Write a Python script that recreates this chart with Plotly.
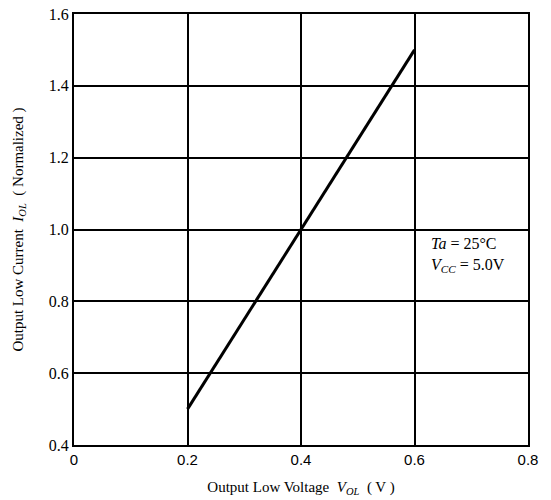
import plotly.graph_objects as go

vol = [0.2, 0.4, 0.6]
iol = [0.5, 1.0, 1.5]
x_ticks = [0, 0.2, 0.4, 0.6, 0.8]
x_labels = ["0", "0.2", "0.4", "0.6", "0.8"]
y_ticks = [0.4, 0.6, 0.8, 1.0, 1.2, 1.4, 1.6]
y_labels = ["0.4", "0.6", "0.8", "1.0", "1.2", "1.4", "1.6"]

serif = "Liberation Serif"
fig = go.Figure()
fig.add_trace(go.Scatter(x=vol, y=iol, mode="lines",
                         line=dict(color="black", width=3), showlegend=False))

fig.add_annotation(x=0.625, y=0.93, xref="x", yref="y", xanchor="left",
                   text="<i>Ta</i> = 25°C<br><i>V<sub>CC</sub></i> = 5.0V",
                   showarrow=False, align="left",
                   font=dict(family=serif, size=16, color="black"))

fig.update_layout(
    width=551, height=500,
    margin=dict(l=74, r=23, t=14, b=55, autoexpand=False),
    paper_bgcolor="white", plot_bgcolor="white",
    xaxis=dict(range=[0, 0.8], tickvals=x_ticks, ticktext=x_labels,
               showgrid=True, gridcolor="black", gridwidth=1.5,
               showline=True, linecolor="black", linewidth=2, mirror=True,
               ticks="", zeroline=False, automargin=False,
               tickfont=dict(family="Liberation Sans", size=15, color="black"),
               title=dict(text="Output Low Voltage  <i>V<sub>OL</sub></i>  ( V )",
                          font=dict(family=serif, size=15, color="black"), standoff=14)),
    yaxis=dict(range=[0.4, 1.6], tickvals=y_ticks, ticktext=y_labels,
               showgrid=True, gridcolor="black", gridwidth=1.5,
               showline=True, linecolor="black", linewidth=2, mirror=True,
               ticks="", zeroline=False, automargin=False,
               tickfont=dict(family=serif, size=16, color="black"),
               title=dict(text="Output Low Current  <i>I<sub>OL</sub></i>  ( Normalized )",
                          font=dict(family=serif, size=15, color="black"), standoff=22)),
)
fig.write_html("out.html")
